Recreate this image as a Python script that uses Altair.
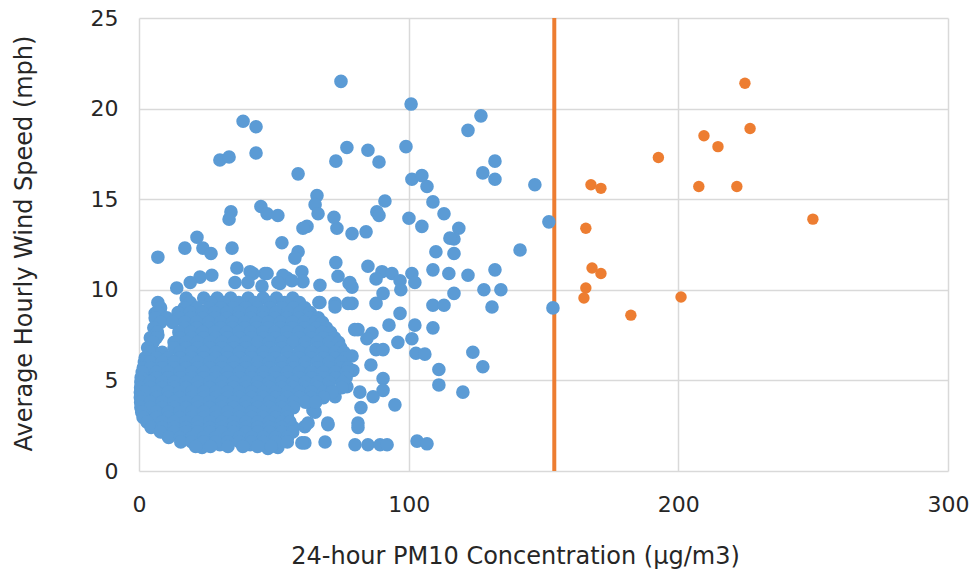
import altair as alt
import pandas as pd

# ---------------- data ----------------
# Blue series: scattered points outside the dense cluster (PM10, wind speed)
blue_out_x = [74.9, 100.9, 126.8, 122, 38.6, 43.4, 30.0, 33.4, 43.4, 59.0, 73.0, 77.1,
              84.9, 89, 99, 101.2, 104.9, 106.8, 109, 113.1, 118.6, 116.8, 110.1, 116.8,
              141.3, 152, 146.8, 127.5, 132, 132, 100.1, 104.9, 91.2, 88.2, 89, 79, 84.2,
              73.4, 72.3, 45.2, 47.5, 51.5, 34.1, 33.4, 66, 65.3, 66.4, 62.3, 60.8, 53,
              59, 57.8, 34.5, 21.5, 17, 23.7, 26.7, 7,
              84.9, 90.1, 93.8, 87.9, 96.8, 101.2, 102.3, 109, 114.9, 122, 132, 127.9,
              134.2, 130.9, 116.8, 109, 113.1, 97.1, 90.5, 87.9, 96.8, 92.7, 102.3, 109,
              96, 101.2, 102.7, 106, 81.2, 86.4, 84.5, 87.9, 90.5, 79, 86, 123.8, 127.5,
              111.2, 111.2, 120.1, 90.5, 90.5, 81.9, 86.8, 94.9, 82.3, 81.2, 81.2, 80.1,
              84.9, 89.4, 92, 103.1, 106.8, 153.5, 77.1, 79.3, 73, 73.8, 78.2, 79, 115.3,
              46.7, 54.9, 60.4, 60.8, 67.1, 52.3, 66.7, 72.7, 79, 77.9, 42.3,
              70.1, 69, 61.5, 61.5, 64.5, 78.2,
              7, 6, 7, 4.8, 3.3, 2.2, 1.5, 2.2, 7.8, 14, 22.6, 27, 19, 36.3, 41.2, 47.5,
              53.4, 35.6, 40.4, 45.6, 51.5, 56.7, 67.1, 72.7, 77.5, 80, 70, 73.8, 72.7,
              65.3, 62.7, 70, 60.4, 51.5, 47.8, 41.2, 30, 23.4, 10.4, 16.3]
blue_out_y = [21.5, 20.25, 19.6, 18.8, 19.3, 19.0, 17.16, 17.33, 17.55, 16.4, 17.1, 17.85,
              17.7, 17.05, 17.9, 16.1, 16.3, 15.7, 14.85, 14.2, 13.4, 12.8, 12.1, 12.0,
              12.2, 13.75, 15.8, 16.45, 17.1, 16.1, 13.95, 13.5, 14.9, 14.3, 14.1, 13.1, 13.2,
              13.4, 14.0, 14.6, 14.2, 14.1, 14.3, 13.9, 15.2, 14.7, 14.2, 13.5, 13.4, 12.6,
              12.1, 11.75, 12.3, 12.9, 12.3, 12.3, 12.0, 11.8,
              11.3, 11.0, 10.9, 10.6, 10.5, 10.9, 10.4, 11.1, 10.9, 10.8, 11.1, 10.0,
              10.0, 9.05, 9.8, 9.15, 9.15, 10.0, 9.8, 9.25, 8.7, 8.05, 8.05, 7.9,
              7.1, 7.3, 6.5, 6.45, 7.8, 7.6, 7.3, 6.7, 6.7, 6.35, 5.85, 6.55, 5.75,
              5.6, 4.75, 4.35, 5.1, 4.45, 4.35, 4.1, 3.65, 3.5, 2.65, 2.4, 1.45,
              1.45, 1.45, 1.45, 1.65, 1.5, 9.0, 4.65, 5.55, 11.5, 10.75, 10.4, 10.15, 12.85,
              10.9, 10.65, 11.0, 10.45, 10.25, 10.35, 9.3, 9.25, 9.25, 10.35, 10.9,
              2.55, 1.6, 1.55, 2.45, 3.35, 5.6,
              9.3, 8.7, 7.5, 6.7, 6.2, 5.1, 4.3, 3.1, 2.25, 10.1, 10.7, 10.8, 10.4, 11.2, 11.0, 10.9,
              10.8, 10.4, 10.4, 10.2, 10.4, 10.5, 9.3, 9.05, 9.25, 7.8, 7.3, 6.3, 4.1,
              3.25, 2.65, 2.65, 1.55, 1.3, 1.25, 1.45, 1.45, 1.3, 2.0, 2.0]

# Blue series: the dense cluster, read row by row (wind speed -> PM10 values)
cluster_rows = {
    9.55: [17.5, 24, 29, 34, 40.5, 46, 51, 57],
    9.3: [19, 26.5, 31.5, 37, 43, 48.5, 54, 59.5],
    9.0: [8, 16.8, 21.5, 26, 30.4, 35, 39.6, 44, 48.5, 53, 57.4, 61.5],
    8.75: [7, 14.5, 19, 23.5, 28, 32.7, 37.3, 41.8, 46.2, 50.7, 55.2, 59.6, 63.5],
    8.45: [6, 10.3, 14.8, 19.2, 23.6, 28.1, 32.5, 37, 41.4, 45.9, 50.3, 54.8, 59.2, 63.5, 66.5],
    8.2: [8, 12.5, 17, 21.4, 25.9, 30.3, 34.7, 39.2, 43.6, 48, 52.5, 56.9, 61.3, 65.5, 68],
    7.9: [5.5, 17, 21.4, 25.9, 30.3, 34.7, 39.2, 43.6, 48, 52.5, 56.9, 61.3, 65.8, 69.5],
    7.65: [6.8, 14.8, 19.2, 23.6, 28.1, 32.5, 37, 41.4, 45.9, 50.3, 54.8, 59.2, 63.6, 68, 71],
    7.35: [4.2, 6.4, 15.2, 19.6, 24, 28.5, 32.9, 37.3, 41.8, 46.2, 50.6, 55.1, 59.5, 63.9, 68.4, 72.5],
    7.1: [5.2, 13, 17.4, 21.8, 26.3, 30.7, 35.1, 39.6, 44, 48.4, 52.9, 57.3, 61.7, 66.2, 70.6, 74],
    6.8: [3.2, 13, 17.4, 21.8, 26.3, 30.7, 35.1, 39.6, 44, 48.4, 52.9, 61.7, 66.2, 70.6, 74.8],
    6.55: [4.2, 8.6, 15.2, 19.6, 24, 28.5, 32.9, 37.3, 41.8, 46.2, 50.6, 55.1, 59.5, 63.9, 68.4, 72.8, 76],
    6.25: [2.3, 6.4, 10.8, 15.2, 19.6, 24, 28.5, 32.9, 37.3, 41.8, 46.2, 50.6, 55.1, 59.5, 63.9, 68.4, 72.8, 76.5],
    6.0: [2, 4.2, 8.6, 13, 17.4, 21.8, 26.3, 30.7, 35.1, 39.6, 44, 48.4, 52.9, 57.3, 61.7, 66.2, 70.6, 75],
    5.7: [1.6, 4.2, 8.6, 13, 17.4, 21.8, 26.3, 30.7, 35.1, 39.6, 44, 48.4, 52.9, 57.3, 61.7, 66.2, 70.6, 75, 77.5],
    5.45: [1.2, 6.4, 10.8, 15.2, 19.6, 24, 28.5, 32.9, 37.3, 41.8, 46.2, 50.6, 55.1, 59.5, 63.9, 68.4, 72.8, 77],
    5.15: [0.8, 6.4, 10.8, 15.2, 19.6, 24, 28.5, 32.9, 37.3, 41.8, 46.2, 50.6, 55.1, 59.5, 63.9, 68.4, 72.8, 76.8],
    4.9: [0.7, 4.2, 8.6, 13, 17.4, 21.8, 26.3, 30.7, 35.1, 39.6, 44, 48.4, 52.9, 57.3, 61.7, 66.2, 70.6, 75.5],
    4.6: [0.6, 4.2, 8.6, 13, 17.4, 21.8, 26.3, 30.7, 35.1, 39.6, 44, 48.4, 52.9, 57.3, 61.7, 66.2, 70.6, 75.2],
    4.35: [0.5, 2.3, 6.4, 10.8, 15.2, 19.6, 24, 28.5, 32.9, 37.3, 41.8, 46.2, 50.6, 55.1, 59.5, 63.9, 68.4, 71.5],
    4.05: [0.5, 6.4, 10.8, 15.2, 19.6, 24, 28.5, 32.9, 37.3, 41.8, 46.2, 50.6, 55.1, 59.5, 63.9, 68.4],
    3.8: [0.6, 4.2, 8.6, 13, 17.4, 21.8, 26.3, 30.7, 35.1, 39.6, 44, 48.4, 52.9, 57.3, 61.7, 65.5],
    3.5: [0.7, 4.2, 8.6, 13, 17.4, 21.8, 26.3, 30.7, 35.1, 39.6, 44, 48.4, 52.9, 57.3],
    3.25: [1, 6.4, 10.8, 15.2, 19.6, 24, 28.5, 32.9, 37.3, 41.8, 46.2, 50.6, 55.1],
    2.95: [1.5, 6.4, 10.8, 15.2, 19.6, 24, 28.5, 32.9, 37.3, 41.8, 46.2, 50.6, 55.1],
    2.7: [3, 8.6, 13, 17.4, 21.8, 26.3, 30.7, 35.1, 39.6, 44, 48.4, 52.9, 56],
    2.4: [4.5, 8.6, 13, 17.4, 21.8, 26.3, 30.7, 35.1, 39.6, 44, 48.4, 52.9, 57.3],
    2.15: [8, 13, 17.4, 21.8, 26.3, 30.7, 35.1, 39.6, 44, 48.4, 52.9, 57],
    1.85: [11, 15.2, 19.6, 24, 28.5, 32.9, 37.3, 41.8, 46.2, 50.6, 55.1],
    1.6: [15.5, 19.6, 24, 28.5, 32.9, 37.3, 41.8, 46.2, 50.6, 55],
    1.35: [21, 26.5, 33, 38.5, 44, 49],
}

# Orange series: points above the threshold
orange_x = [167.6, 171.3, 165.7, 168, 171.3, 165.7, 165, 182.4, 192.6, 201, 207.6,
            209.5, 214.7, 221.7, 224.7, 226.6, 249.9]
orange_y = [15.8, 15.6, 13.4, 11.2, 10.9, 10.1, 9.55, 8.6, 17.3, 9.6, 15.7,
            18.5, 17.9, 15.7, 21.4, 18.9, 13.9]

threshold = [154]

x_ticks = [0, 100, 200, 300]
y_ticks = [0, 5, 10, 15, 20, 25]

# ---------------- build tables ----------------
bx = list(blue_out_x)
by = list(blue_out_y)
for yv, xs in cluster_rows.items():
    for xv in xs:
        bx.append(xv)
        by.append(yv)
blue_df = pd.DataFrame({"pm10": bx, "wind": by})
orange_df = pd.DataFrame({"pm10": orange_x, "wind": orange_y})
line_df = pd.DataFrame({"pm10": threshold})

FONT = "DejaVu Sans"
TEXT = "#262626"

x_scale = alt.Scale(domain=[0, 300], nice=False, zero=False)
y_scale = alt.Scale(domain=[0, 25], nice=False, zero=False)

x_axis = alt.Axis(values=x_ticks, title="24-hour PM10 Concentration (µg/m3)",
                  grid=True, domain=False, ticks=False, labelFlush=False,
                  gridColor="#D9D9D9", gridWidth=1.5,
                  labelFont=FONT, titleFont=FONT, labelColor=TEXT, titleColor=TEXT,
                  labelFontSize=22, labelPadding=40, labelBaseline="alphabetic",
                  titleFontSize=24, titleFontWeight="normal",
                  titleX=376, titleY=92, titleAlign="center", titleBaseline="alphabetic")
y_axis = alt.Axis(values=y_ticks, title="Average Hourly Wind Speed (mph)",
                  grid=True, domain=False, ticks=False, labelFlush=False,
                  gridColor="#D9D9D9", gridWidth=1.5,
                  labelFont=FONT, titleFont=FONT, labelColor=TEXT, titleColor=TEXT,
                  labelFontSize=22, labelPadding=21,
                  titleFontSize=24, titleFontWeight="normal",
                  titleX=-108, titleY=225, titleAlign="center", titleBaseline="alphabetic")

rule = alt.Chart(line_df).mark_rule(color="#ED7D31", strokeWidth=4).encode(
    x=alt.X("pm10:Q", scale=x_scale, axis=x_axis)
)

blue = alt.Chart(blue_df).mark_circle(color="#5B9BD5", opacity=1, size=185).encode(
    x=alt.X("pm10:Q", scale=x_scale, axis=x_axis),
    y=alt.Y("wind:Q", scale=y_scale, axis=y_axis),
)

orange = alt.Chart(orange_df).mark_circle(color="#ED7D31", opacity=1, size=130).encode(
    x=alt.X("pm10:Q", scale=x_scale, axis=x_axis),
    y=alt.Y("wind:Q", scale=y_scale, axis=y_axis),
)

chart = alt.layer(rule, blue, orange).properties(
    width=809, height=453,
    autosize="none",
    background="white",
    padding={"left": 139, "top": 18, "right": 28, "bottom": 104},
).configure_view(stroke=None)

chart.save("out.html", embed_options={"renderer": "svg", "actions": False})
